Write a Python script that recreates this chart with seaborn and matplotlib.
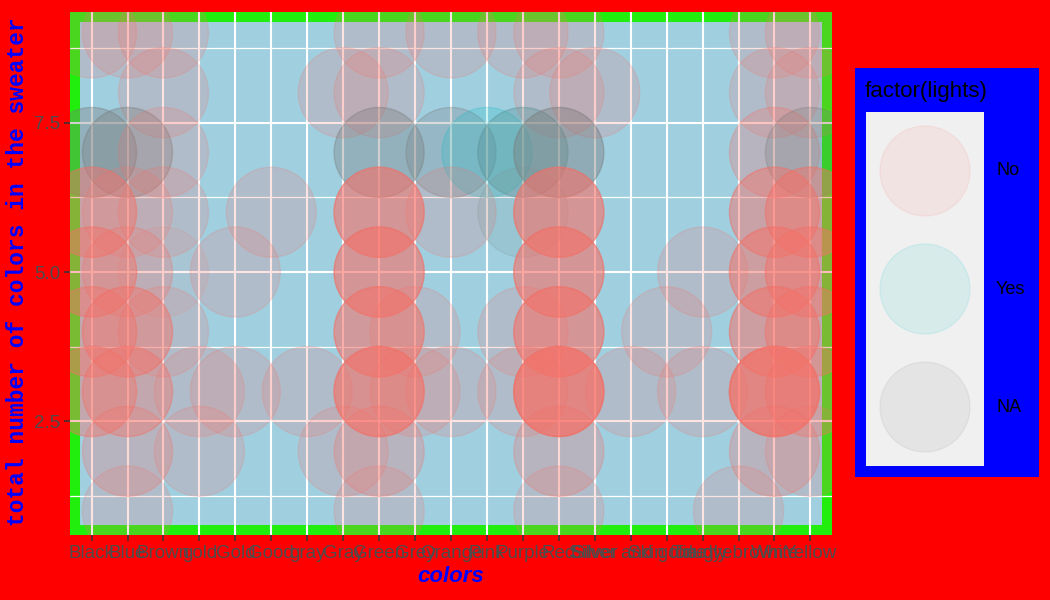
import numpy as np
import pandas as pd
import matplotlib
matplotlib.use("Agg")
import matplotlib.pyplot as plt
from matplotlib.patches import Rectangle
import seaborn as sns

# categories on the x axis (factor levels, in order)
colors_order = ["Black", "Blue", "Brown", "gold", "Gold", "Good", "gray", "Gray",
                "Green", "Grey", "Orange", "Pink", "Purple", "Red", "Silver",
                "Silver and gold", "Skin tone", "Tie dye", "ugly brown", "White", "Yellow"]
light_levels = ["No", "Yes", "NA"]
light_palette = {"No": "#F8766D", "Yes": "#00BFC4", "NA": "#7F7F7F"}

# one entry per (colour, total colours, lights) group, with the number of sweaters
pt_color = ["Black", "Blue", "Brown", "Green", "Orange", "Purple", "Red", "White", "Yellow",
            "Brown", "Gray", "Green", "Red", "Silver", "White", "Yellow",
            "Black", "Blue", "Brown", "Green", "Orange", "Pink", "Purple", "Purple", "Red", "White", "Yellow",
            "Black", "Blue", "Brown", "Good", "Green", "Orange", "Purple", "Purple", "Red", "White", "Yellow",
            "Black", "Blue", "Brown", "Gold", "Green", "Red", "Tie dye", "White", "Yellow",
            "Black", "Blue", "Brown", "Green", "Grey", "Purple", "Red", "Skin tone", "White", "Yellow",
            "Black", "Blue", "gold", "Gold", "gray", "Green", "Grey", "Orange", "Purple", "Red",
            "Silver and gold", "Tie dye", "White", "Yellow",
            "Blue", "gold", "Gray", "Green", "Red", "White", "Yellow",
            "Blue", "Green", "Red", "ugly brown"]
pt_total = [9, 9, 9, 9, 9, 9, 9, 9, 9,
            8, 8, 8, 8, 8, 8, 8,
            7, 7, 7, 7, 7, 7, 7, 7, 7, 7, 7,
            6, 6, 6, 6, 6, 6, 6, 6, 6, 6, 6,
            5, 5, 5, 5, 5, 5, 5, 5, 5,
            4, 4, 4, 4, 4, 4, 4, 4, 4, 4,
            3, 3, 3, 3, 3, 3, 3, 3, 3, 3,
            3, 3, 3, 3,
            2, 2, 2, 2, 2, 2, 2,
            1, 1, 1, 1]
pt_lights = ["No"] * 9 + ["No"] * 7 + \
            ["NA", "NA", "No", "NA", "NA", "Yes", "NA", "Yes", "NA", "No", "NA"] + \
            ["No", "No", "No", "No", "No", "No", "Yes", "No", "No", "No", "No"] + \
            ["No"] * 9 + ["No"] * 10 + ["No"] * 14 + ["No"] * 7 + ["No"] * 4
pt_count = [2, 2, 2, 2, 2, 2, 2, 2, 2,
            2, 2, 2, 2, 2, 2, 2,
            4, 4, 2, 4, 3, 2, 3, 1, 5, 3, 3,
            6, 2, 2, 2, 9, 2, 1, 1, 9, 6, 6,
            6, 3, 1, 2, 9, 9, 2, 7, 6,
            5, 6, 2, 8, 2, 2, 9, 2, 7, 5,
            5, 5, 2, 2, 2, 10, 2, 2, 2, 14,
            2, 2, 14, 4,
            3, 2, 2, 3, 3, 3, 2,
            2, 2, 2, 2]

df = pd.DataFrame({"colors": pt_color, "total": pt_total,
                   "lights": pt_lights, "n": pt_count})
df = df.loc[df.index.repeat(df["n"])].reset_index(drop=True)
df["pos"] = df["colors"].map({c: i for i, c in enumerate(colors_order)})

sns.set_theme(style="white")
plt.rcParams["font.family"] = ["Liberation Sans", "DejaVu Sans"]

W, H = 1050, 600
fig = plt.figure(figsize=(W / 100, H / 100), dpi=100, facecolor="#FF0000")

# main panel
ax = fig.add_axes([70 / W, 1 - 535 / H, 762 / W, 523 / H])
ax.set_facecolor("#A0CFE0")
ax.set_axisbelow(True)
ax.add_patch(Rectangle((0, 0), 1, 1, transform=ax.transAxes, fill=False,
                       edgecolor="#22EE0E", linewidth=14.4, zorder=0.3))

sns.scatterplot(data=df, x="pos", y="total", hue="lights", hue_order=light_levels,
                palette=light_palette, s=4200, alpha=0.1, edgecolor="face",
                linewidth=1, legend=False, ax=ax)

ax.set_xlim(-0.6, 20.6)
ax.set_ylim(0.6, 9.35)
ax.set_xticks(range(len(colors_order)))
ax.set_xticklabels(colors_order)
ax.set_yticks([2.5, 5.0, 7.5])
ax.set_yticklabels(["2.5", "5.0", "7.5"])
ax.set_yticks([1.25, 3.75, 6.25, 8.75], minor=True)
ax.grid(which="major", color="white", linewidth=1.5)
ax.grid(which="minor", axis="y", color="white", linewidth=0.9)
ax.tick_params(which="major", colors="#333333", length=4, width=1.1,
               labelcolor="#4D4D4D", labelsize=13.5, pad=3, bottom=True, left=True)
ax.tick_params(which="minor", length=0)
for s in ax.spines.values():
    s.set_visible(False)
ax.set_xlabel("")
ax.set_ylabel("")

fig.text(451 / W, 1 - 577 / H, "colors", color="#0000FF", fontsize=16,
         fontweight="bold", fontstyle="italic", ha="center", va="center")
fig.text(18 / W, 1 - 272 / H, "total number of colors in the sweater", color="#0000FF",
         fontsize=16.5, fontweight="bold", family="Liberation Mono",
         rotation=90, ha="center", va="center")

# legend
fig.add_artist(Rectangle((855 / W, 1 - 477 / H), 184 / W, 409 / H, transform=fig.transFigure,
                         facecolor="#0000FF", edgecolor="none", zorder=-1))
fig.text(865 / W, 1 - 92 / H, "factor(lights)", color="black", fontsize=16,
         ha="left", va="center")
lax = fig.add_axes([866 / W, 1 - 466 / H, 118 / W, 354 / H])
lax.set_facecolor("#F0F0F0")
key_y = [(466 - 171) / 354, (466 - 289) / 354, (466 - 407) / 354]
leg_df = pd.DataFrame({"x": [0.5] * 3, "y": key_y, "lights": light_levels})
sns.scatterplot(data=leg_df, x="x", y="y", hue="lights", hue_order=light_levels,
                palette=light_palette, s=4200, alpha=0.1, edgecolor="face",
                linewidth=1, legend=False, ax=lax)
lax.set_xlim(0, 1)
lax.set_ylim(0, 1)
lax.set_xticks([])
lax.set_yticks([])
lax.set_xlabel("")
lax.set_ylabel("")
for s in lax.spines.values():
    s.set_visible(False)
for lab, yy in zip(light_levels, [171, 289, 407]):
    fig.text(996 / W, 1 - yy / H, lab, color="black", fontsize=13, ha="left", va="center")

fig.savefig("out.png", dpi=100, facecolor=fig.get_facecolor())
